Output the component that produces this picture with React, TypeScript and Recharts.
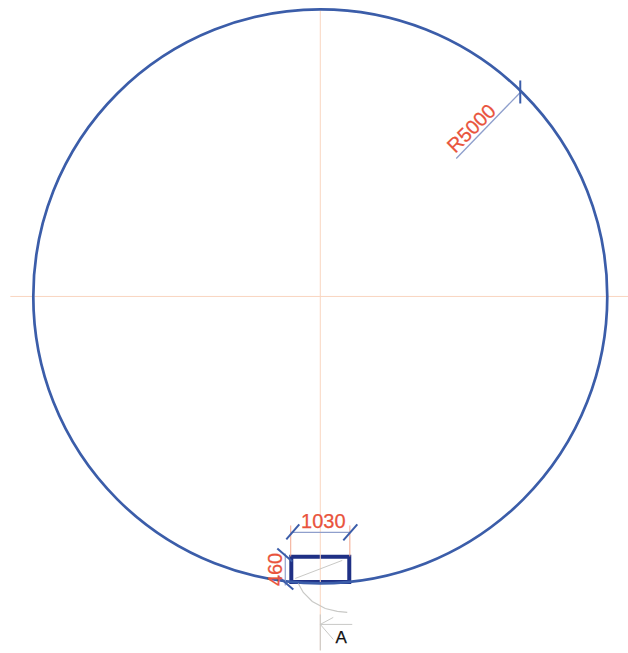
import React from "react";
import { ScatterChart, Scatter, XAxis, YAxis, ReferenceDot, ReferenceArea } from "recharts";

// All values are in millimetres, origin at the centre of the circle.
type P = { x: number; y: number };
const center: P = { x: 0, y: 0 };
const radiusMm = 5000;
const xDomain = [-5580, 5361];
const yDomain = [-6212, 5165];

const axisV: P[] = [{ x: 0, y: 4983 }, { x: 0, y: -6167 }];
const axisH: P[] = [{ x: -5400, y: 0 }, { x: 5361, y: 0 }];

const radiusLine: P[] = [{ x: 2369, y: 2404 }, { x: 3484, y: 3554 }];
const radiusTick: P[] = [{ x: 3484, y: 3763 }, { x: 3484, y: 3362 }];

const hatchRect = { x1: -505, x2: 505, y1: -4975, y2: -4535 };
const hatchDiagonal: P[] = [{ x: -436, y: -4913 }, { x: 383, y: -4599 }];

const widthDim: P[] = [{ x: -515, y: -4111 }, { x: 515, y: -4111 }];
const widthExtL: P[] = [{ x: -515, y: -3990 }, { x: -515, y: -4530 }];
const widthExtR: P[] = [{ x: 515, y: -3990 }, { x: 515, y: -4530 }];
const widthTickL: P[] = [{ x: -592, y: -4233 }, { x: -366, y: -3972 }];
const widthTickR: P[] = [{ x: 401, y: -4251 }, { x: 645, y: -3972 }];

const heightDim: P[] = [{ x: -610, y: -4477 }, { x: -610, y: -5035 }];
const heightTickT: P[] = [{ x: -749, y: -4390 }, { x: -488, y: -4617 }];
const heightTickB: P[] = [{ x: -732, y: -4878 }, { x: -470, y: -5105 }];

const swingArc: P[] = [
  { x: -383, y: -5000 }, { x: -296, y: -5157 }, { x: -139, y: -5314 },
  { x: 87, y: -5436 }, { x: 296, y: -5488 }, { x: 470, y: -5505 },
];
const sectionV: P[] = [{ x: 0, y: -5540 }, { x: 0, y: -6167 }];
const sectionH: P[] = [{ x: 0, y: -5714 }, { x: 557, y: -5714 }];
const sectionHead: P[] = [{ x: 226, y: -5592 }, { x: 0, y: -5714 }, { x: 226, y: -5975 }];

const labels = [
  { x: 2630, y: 2930, text: "R5000", angle: -45, color: "#e9533c", size: 20 },
  { x: 52, y: -3920, text: "1030", angle: 0, color: "#e9533c", size: 20 },
  { x: -784, y: -4756, text: "460", angle: -90, color: "#e9533c", size: 20 },
  { x: 366, y: -5940, text: "A", angle: 0, color: "#111111", size: 17 },
];

const ORANGE = "#f9d5c0";
const BLUE = "#3b5da9";
const GRAY = "#c9c9c6";
const DIM = "#8f9fcc";
const EXT = "#f3a78d";

const underRect: { data: P[]; stroke: string; width: number }[] = [
  { data: axisV, stroke: ORANGE, width: 1 },
  { data: axisH, stroke: ORANGE, width: 1 },
];

const overRect: { data: P[]; stroke: string; width: number }[] = [
  { data: radiusLine, stroke: DIM, width: 1.3 },
  { data: radiusTick, stroke: BLUE, width: 2 },
  { data: hatchDiagonal, stroke: GRAY, width: 1 },
  { data: widthExtL, stroke: EXT, width: 1 },
  { data: widthExtR, stroke: EXT, width: 1 },
  { data: widthDim, stroke: DIM, width: 1.2 },
  { data: widthTickL, stroke: BLUE, width: 2 },
  { data: widthTickR, stroke: BLUE, width: 2 },
  { data: heightDim, stroke: DIM, width: 1.2 },
  { data: heightTickT, stroke: BLUE, width: 2 },
  { data: heightTickB, stroke: BLUE, width: 2 },
  { data: swingArc, stroke: GRAY, width: 1.2 },
  { data: sectionV, stroke: GRAY, width: 1 },
  { data: sectionH, stroke: GRAY, width: 1 },
  { data: sectionHead, stroke: GRAY, width: 1 },
];

const noPoint = () => <g />;

const labelShape = (props: any) => {
  const { cx, cy, payload } = props;
  return (
    <text
      x={cx}
      y={cy}
      transform={`rotate(${payload.angle} ${cx} ${cy})`}
      textAnchor="middle"
      dominantBaseline="central"
      fontFamily="'Liberation Sans', Arial, sans-serif"
      fontSize={payload.size}
      fill={payload.color}
      stroke={payload.color}
      strokeWidth={0.25}
    >
      {payload.text}
    </text>
  );
};

const renderSegment = (s: { data: P[]; stroke: string; width: number }, key: string) => (
  <Scatter
    key={key}
    data={s.data}
    line={{ stroke: s.stroke, strokeWidth: s.width }}
    lineType="joint"
    shape={noPoint}
    isAnimationActive={false}
  />
);

export default function App() {
  return (
    <div style={{ position: "absolute", left: 0, top: 0, width: 628, height: 653, background: "#fff" }}>
      <ScatterChart width={628} height={653} margin={{ top: 0, right: 0, bottom: 0, left: 0 }}>
        <XAxis type="number" dataKey="x" domain={xDomain} hide allowDataOverflow />
        <YAxis type="number" dataKey="y" domain={yDomain} hide allowDataOverflow />
        {underRect.map((s, i) => renderSegment(s, `u${i}`))}
        <ReferenceDot
          x={center.x}
          y={center.y}
          r={(radiusMm * 628) / (xDomain[1] - xDomain[0])}
          fill="none"
          stroke={BLUE}
          strokeWidth={2.7}
        />
        <ReferenceArea {...hatchRect} fill="#ffffff" fillOpacity={1} stroke="#1f3085" strokeWidth={4} />
        {overRect.map((s, i) => renderSegment(s, `o${i}`))}
        <Scatter data={labels} shape={labelShape} isAnimationActive={false} />
      </ScatterChart>
    </div>
  );
}
